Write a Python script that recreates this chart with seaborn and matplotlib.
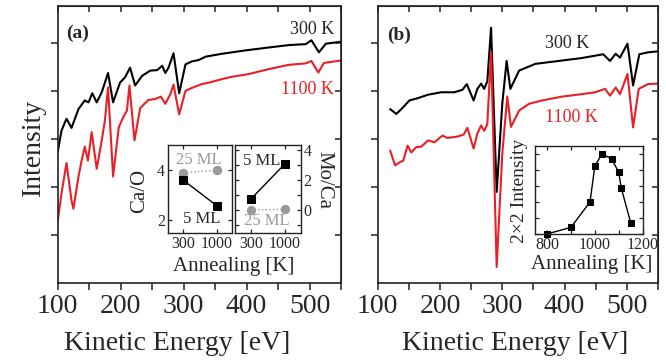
import numpy as np
import pandas as pd
import seaborn as sns
import matplotlib.pyplot as plt
from matplotlib.ticker import MultipleLocator

# spectra (kinetic energy in eV, intensity in arb. units)
a_300_ev = [100, 106, 114, 122, 133, 143, 149, 155, 162, 170, 180, 188, 199, 207, 215, 223, 234, 247,
            258, 266, 271, 276, 284, 293, 303, 313, 324, 335, 361, 398, 435, 467, 494, 503, 515, 526, 550]
a_300_int = [2.72, 3.17, 3.42, 3.23, 3.62, 3.80, 3.76, 3.95, 3.76, 3.97, 4.37, 3.76, 4.17, 4.28, 4.48, 4.11,
             4.31, 4.42, 4.43, 4.52, 4.37, 4.48, 4.78, 3.95, 4.55, 4.61, 4.64, 4.71, 4.77, 4.84, 4.90, 4.95,
             4.97, 5.05, 4.80, 4.98, 5.02]
a_1100_ev = [100, 106, 114, 122, 125, 133, 138, 143, 148, 154, 162, 170, 175, 180, 188, 197, 204, 210, 214,
             222, 231, 244, 255, 264, 271, 279, 284, 293, 303, 313, 329, 340, 372, 404, 435, 467, 494, 503,
             514, 523, 550]
a_1100_int = [1.28, 1.86, 2.50, 1.72, 1.55, 2.21, 2.55, 2.84, 2.55, 3.14, 2.38, 2.97, 3.38, 4.07, 2.22, 3.24,
              3.45, 3.59, 4.11, 2.97, 3.64, 3.81, 3.83, 3.88, 3.73, 3.93, 4.13, 3.51, 4.00, 4.06, 4.14, 4.17,
              4.28, 4.35, 4.45, 4.54, 4.57, 4.62, 4.38, 4.58, 4.63]

b_300_ev = [120, 130, 138, 151, 165, 181, 202, 223, 236, 243, 254, 260, 266, 271, 276, 282, 291, 300, 307,
            313, 327, 353, 390, 427, 449, 462, 473, 482, 489, 501, 510, 520, 534, 550]
b_300_int = [3.62, 3.52, 3.62, 3.80, 3.85, 3.92, 3.97, 3.97, 4.02, 4.14, 3.80, 4.04, 4.15, 4.04, 4.20, 5.31,
             1.90, 3.73, 4.62, 4.04, 4.42, 4.56, 4.62, 4.68, 4.73, 4.76, 4.62, 4.77, 4.69, 4.98, 4.11, 4.76,
             4.80, 4.82]
b_1100_ev = [120, 128, 136, 141, 148, 154, 162, 170, 181, 191, 204, 212, 228, 238, 244, 254, 260, 266, 271,
             276, 282, 291, 300, 308, 314, 327, 343, 364, 396, 427, 449, 465, 473, 482, 489, 501, 510, 519,
             534, 550]
b_1100_int = [2.76, 2.45, 2.52, 2.55, 2.86, 2.72, 2.83, 2.84, 2.97, 2.93, 3.07, 3.02, 3.05, 3.09, 3.23, 2.80,
              3.11, 3.28, 3.17, 3.31, 4.80, 0.34, 2.69, 3.88, 3.25, 3.59, 3.73, 3.80, 3.88, 3.93, 3.97, 4.04,
              3.90, 4.07, 3.93, 4.35, 3.24, 4.04, 4.14, 4.15]

# insets
anneal_T = [300, 1000]
ca_o_5ml = [3.60, 2.59]
ca_o_25ml = [3.90, 3.99]
mo_ca_5ml = [0.73, 3.07]
mo_ca_25ml = [0.00, 0.05]
lattice_T = [800, 900, 980, 1000, 1030, 1070, 1100, 1110, 1150]
lattice_int = [0.0, 0.083, 0.40, 0.85, 1.0, 0.94, 0.77, 0.58, 0.14]

sns.set_style('ticks')
plt.rcParams['font.family'] = ['Liberation Serif', 'DejaVu Serif']

red = '#ea1f26'
gray = '#9a9a9a'
W, H = 666, 360

fig = plt.figure(figsize=(6.66, 3.6), dpi=100)


def px(x, y):
    return x / W, 1 - y / H


def main_style(ax):
    ax.set_xlim(100, 550)
    ax.set_ylim(0, 5.76)
    ax.xaxis.set_major_locator(MultipleLocator(100))
    ax.xaxis.set_minor_locator(MultipleLocator(50))
    ax.set_yticks([1, 2, 3, 4, 5])
    ax.set_yticklabels([])
    ax.tick_params(which='both', direction='out', length=5, width=1.1, labelsize=20, pad=3, color='#222222')
    for s in ax.spines.values():
        s.set_linewidth(1.2)
        s.set_color('#222222')
    top = ax.secondary_xaxis('top')
    top.xaxis.set_major_locator(MultipleLocator(50))
    top.tick_params(direction='in', length=4, width=1.1, labeltop=False, color='#222222')
    right = ax.secondary_yaxis('right')
    right.set_yticks([1, 2, 3, 4, 5])
    right.tick_params(direction='in', length=4, width=1.1, labelright=False, color='#222222')
    ax.set_xlabel('')
    ax.set_ylabel('')


ax_a = fig.add_axes([0.0866, 0.213, 0.4254, 0.770])
ax_b = fig.add_axes([0.5671, 0.213, 0.4209, 0.770])

sns.lineplot(x=a_300_ev, y=a_300_int, ax=ax_a, color='black', lw=1.5)
sns.lineplot(x=a_1100_ev, y=a_1100_int, ax=ax_a, color=red, lw=1.5)
sns.lineplot(x=b_300_ev, y=b_300_int, ax=ax_b, color='black', lw=1.5)
sns.lineplot(x=b_1100_ev, y=b_1100_int, ax=ax_b, color=red, lw=1.5)
main_style(ax_a)
main_style(ax_b)

fig.text(*px(33, 147), 'Intensity', rotation=90, fontsize=20, ha='center', va='center')
fig.text(*px(177, 344), 'Kinetic Energy [eV]', fontsize=20, ha='center', va='center')
fig.text(*px(515, 344), 'Kinetic Energy [eV]', fontsize=20, ha='center', va='center')
fig.text(*px(66, 33), '(a)', fontsize=14, fontweight='bold', ha='left', va='center')
fig.text(*px(387, 35), '(b)', fontsize=14, fontweight='bold', ha='left', va='center')
fig.text(*px(334, 30), '300 K', fontsize=13, ha='right', va='center')
fig.text(*px(334, 90), '1100 K', fontsize=13, ha='right', va='center', color=red)
fig.text(*px(545, 43), '300 K', fontsize=13, ha='left', va='center')
fig.text(*px(545, 118), '1100 K', fontsize=13, ha='left', va='center', color=red)


def inset_style(ax):
    ax.tick_params(which='both', direction='in', length=3, width=0.9, labelsize=11.5, pad=2,
                   top=True, right=True, color='#222222')
    for s in ax.spines.values():
        s.set_linewidth(1.0)
        s.set_color('#222222')
    ax.set_xlabel('')
    ax.set_ylabel('')


# Ca/O inset
in1 = fig.add_axes([0.2518, 0.3528, 0.097, 0.2444])
sns.lineplot(x=anneal_T, y=ca_o_25ml, ax=in1, color=gray, ls=':', marker='o', markersize=6, mec=gray, lw=1)
sns.lineplot(x=anneal_T, y=ca_o_5ml, ax=in1, color='black', marker='s', markersize=6, mec='black', lw=1)
in1.set_xlim(-27, 1327)
in1.set_ylim(1.5, 5.0)
in1.set_xticks(anneal_T)
in1.set_yticks([2, 4])
inset_style(in1)
fig.text(*px(199, 160), '25 ML', fontsize=12, color=gray, ha='center', va='center')
fig.text(*px(202, 219), '5 ML', fontsize=12, ha='center', va='center')
fig.text(*px(140, 191), 'Ca/O', rotation=90, fontsize=15, ha='center', va='center')

# Mo/Ca inset
in2 = fig.add_axes([0.3529, 0.3528, 0.0986, 0.2444])
sns.lineplot(x=anneal_T, y=mo_ca_25ml, ax=in2, color=gray, ls=':', marker='o', markersize=6, mec=gray, lw=1)
sns.lineplot(x=anneal_T, y=mo_ca_5ml, ax=in2, color='black', marker='s', markersize=6, mec='black', lw=1)
in2.set_xlim(-27, 1327)
in2.set_ylim(-1.53, 4.33)
in2.set_xticks(anneal_T)
in2.set_yticks([0, 2, 4])
in2.yaxis.set_minor_locator(MultipleLocator(1))
inset_style(in2)
in2.tick_params(labelleft=False, labelright=True)
fig.text(*px(262, 161), '5 ML', fontsize=12, ha='center', va='center')
fig.text(*px(267, 221), '25 ML', fontsize=12, color=gray, ha='center', va='center')
fig.text(*px(324, 180), 'Mo/Ca', rotation=270, fontsize=15, ha='center', va='center')
fig.text(*px(234, 266), 'Annealing [K]', fontsize=15, ha='center', va='center')

# 2x2 intensity inset
in3 = fig.add_axes([0.8033, 0.35, 0.1617, 0.2444])
sns.lineplot(x=lattice_T, y=lattice_int, ax=in3, color='black', marker='s', markersize=5, mec='black',
             lw=1, clip_on=False)
in3.set_xlim(750, 1200)
in3.set_ylim(0, 1.1)
in3.xaxis.set_major_locator(MultipleLocator(200))
in3.xaxis.set_minor_locator(MultipleLocator(100))
in3.yaxis.set_major_locator(MultipleLocator(0.2))
in3.set_yticklabels([])
inset_style(in3)
fig.text(*px(592, 265), 'Annealing [K]', fontsize=15, ha='center', va='center')
fig.text(*px(520, 191), '2×2 Intensity', rotation=90, fontsize=14, ha='center', va='center')

fig.savefig('out.png', dpi=100)
